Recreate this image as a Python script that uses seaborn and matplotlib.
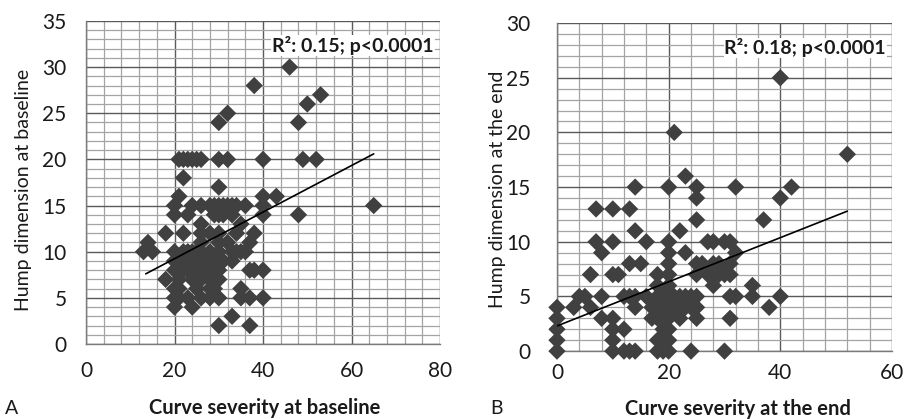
import numpy as np
import pandas as pd
import matplotlib
matplotlib.use("Agg")
import matplotlib.pyplot as plt
from matplotlib.ticker import MultipleLocator
import seaborn as sns

sns.set_style("white")
plt.rcParams["font.family"] = ["Lato", "DejaVu Sans"]

# ── data ──────────────────────────────────────────────────────────────────
# panel A: curve severity at baseline (x) vs hump dimension at baseline (y)
curve_a = [46, 38, 53, 50, 32, 30, 48,
           21, 22, 23, 24, 25, 26, 30, 32, 40, 49, 52,
           22, 30, 21, 40, 43,
           20, 24, 26, 28, 29, 30, 31, 32, 33, 34, 36, 40, 65,
           20, 23, 29, 30, 31, 33, 40, 48,
           26, 35,
           18, 22, 26, 28, 30, 34, 38,
           14, 26, 30, 32, 37,
           13, 15, 20, 22, 23, 24, 25, 26, 28, 30, 33, 34, 35, 36,
           20, 21, 22, 24, 25, 27, 28, 29, 31, 33,
           20, 22, 23, 25, 26, 27, 29, 30, 37, 38, 40,
           18, 21, 24, 26, 28, 30,
           20, 21, 25, 28, 29, 35,
           20, 21, 23, 26, 28, 30, 35, 37, 40,
           20, 24,
           33,
           30, 37]
hump_a = [30, 28, 27, 26, 25, 24, 24,
          20, 20, 20, 20, 20, 20, 20, 20, 20, 20, 20,
          18, 17, 16, 16, 16,
          15, 15, 15, 15, 15, 15, 15, 15, 15, 15, 15, 15, 15,
          14, 14, 14, 14, 14, 14, 14, 14,
          13, 13,
          12, 12, 12, 12, 12, 12, 12,
          11, 11, 11, 11, 11,
          10, 10, 10, 10, 10, 10, 10, 10, 10, 10, 10, 10, 10, 10,
          9, 9, 9, 9, 9, 9, 9, 9, 9, 9,
          8, 8, 8, 8, 8, 8, 8, 8, 8, 8, 8,
          7, 7, 7, 7, 7, 7,
          6, 6, 6, 6, 6, 6,
          5, 5, 5, 5, 5, 5, 5, 5, 5,
          4, 4,
          3,
          2, 2]
trend_a_x = [13.5, 65]
trend_a_y = [7.6, 20.6]

# panel B: curve severity at the end (x) vs hump dimension at the end (y)
curve_b = [40, 21, 52, 23,
           14, 20, 25, 32, 42,
           25, 40,
           7, 10, 13,
           25, 37,
           14, 22,
           7, 10, 16, 20, 27, 28, 30, 31,
           8, 20, 23, 32,
           13, 15, 20, 25, 26, 28, 29, 31,
           6, 10, 11, 18, 20, 25, 27, 29, 30, 31,
           18, 20, 28, 35,
           4, 5, 8, 12, 13, 14, 16, 18, 19, 20, 21, 22, 23, 24, 25, 31, 32, 35, 40,
           0, 3, 6, 14, 17, 18, 19, 20, 21, 22, 23, 24, 25, 38,
           0, 8, 10, 17, 18, 20, 22, 25, 31,
           0, 10, 12, 19, 20,
           0, 10, 18, 20,
           0, 10, 12, 13, 14, 18, 19, 20, 24, 30]
hump_b = [25, 20, 18, 16,
          15, 15, 15, 15, 15,
          14, 14,
          13, 13, 13,
          12, 12,
          11, 11,
          10, 10, 10, 10, 10, 10, 10, 10,
          9, 9, 9, 9,
          8, 8, 8, 8, 8, 8, 8, 8,
          7, 7, 7, 7, 7, 7, 7, 7, 7, 7,
          6, 6, 6, 6,
          5, 5, 5, 5, 5, 5, 5, 5, 5, 5, 5, 5, 5, 5, 5, 5, 5, 5, 5,
          4, 4, 4, 4, 4, 4, 4, 4, 4, 4, 4, 4, 4, 4,
          3, 3, 3, 3, 3, 3, 3, 3, 3,
          2, 2, 2, 2, 2,
          1, 1, 1, 1,
          0, 0, 0, 0, 0, 0, 0, 0, 0, 0]
trend_b_x = [0, 52]
trend_b_y = [2.3, 12.8]

MARKER_COLOR = "#404040"
MAJOR_GRID = "#5a5a5a"
MINOR_GRID = "#a4a4a4"
TEXT_COLOR = "#1a1a1a"


def style_axis(ax, xmax, ymax, xpad, ypad):
    ax.set_xlim(0, xmax)
    ax.set_ylim(0, ymax)
    ax.xaxis.set_major_locator(MultipleLocator(20))
    ax.xaxis.set_minor_locator(MultipleLocator(4))
    ax.yaxis.set_major_locator(MultipleLocator(5))
    ax.yaxis.set_minor_locator(MultipleLocator(1))
    ax.grid(which="major", color=MAJOR_GRID, linewidth=1.0)
    ax.grid(which="minor", color=MINOR_GRID, linewidth=0.9)
    ax.set_axisbelow(True)
    for side in ["top", "right"]:
        ax.spines[side].set_visible(False)
    for side in ["left", "bottom"]:
        ax.spines[side].set_color("#7a7a7a")
        ax.spines[side].set_linewidth(1.0)
    ax.tick_params(which="major", direction="out", length=5, width=0.9,
                   color="#7a7a7a", labelsize=15, labelcolor=TEXT_COLOR)
    ax.tick_params(axis="x", which="major", pad=xpad)
    ax.tick_params(axis="y", which="major", pad=ypad)
    ax.tick_params(which="minor", length=0)


def panel(ax, x, y, tx, ty, xmax, ymax, xlabel, ylabel, note, xpad, ypad):
    df = pd.DataFrame({"x": x, "y": y})
    sns.scatterplot(data=df, x="x", y="y", ax=ax, marker="D", s=78,
                    color=MARKER_COLOR, edgecolor="none", linewidth=0,
                    zorder=3, clip_on=False)
    ax.plot(tx, ty, color="black", linewidth=1.2, zorder=4)
    style_axis(ax, xmax, ymax, xpad, ypad)
    ax.set_xlabel(xlabel, fontsize=14.5, fontweight="bold", color=TEXT_COLOR)
    ax.set_ylabel(ylabel, fontsize=14, color=TEXT_COLOR)
    ax.text(0.982, 0.924, note, transform=ax.transAxes, ha="right", va="center",
            fontsize=14, fontweight="bold", color=TEXT_COLOR, zorder=5,
            bbox=dict(facecolor="white", edgecolor="none", pad=0.5))


fig = plt.figure(figsize=(9.08, 4.19), dpi=100)
ax_a = fig.add_axes([0.0947, 0.179, 0.390, 0.771])
ax_b = fig.add_axes([0.6134, 0.162, 0.369, 0.783])

panel(ax_a, curve_a, hump_a, trend_a_x, trend_a_y, 80, 35,
      "Curve severity at baseline", "Hump dimension at baseline",
      "R²: 0.15; p<0.0001", xpad=7, ypad=9)
panel(ax_b, curve_b, hump_b, trend_b_x, trend_b_y, 60, 30,
      "Curve severity at the end", "Hump dimension at the end",
      "R²: 0.18; p<0.0001", xpad=3.5, ypad=14)

ax_a.xaxis.set_label_coords(0.506, -0.168)
ax_a.yaxis.set_label_coords(-0.152, 0.476)
ax_b.xaxis.set_label_coords(0.54, -0.146)
ax_b.yaxis.set_label_coords(-0.152, 0.494)

fig.text(12 / 908, 1 - 408 / 419, "A", fontsize=14, ha="center", va="center",
         color=TEXT_COLOR)
fig.text(497 / 908, 1 - 408 / 419, "B", fontsize=14, ha="center", va="center",
         color=TEXT_COLOR)

fig.savefig("out.png", dpi=100)
plt.close(fig)
